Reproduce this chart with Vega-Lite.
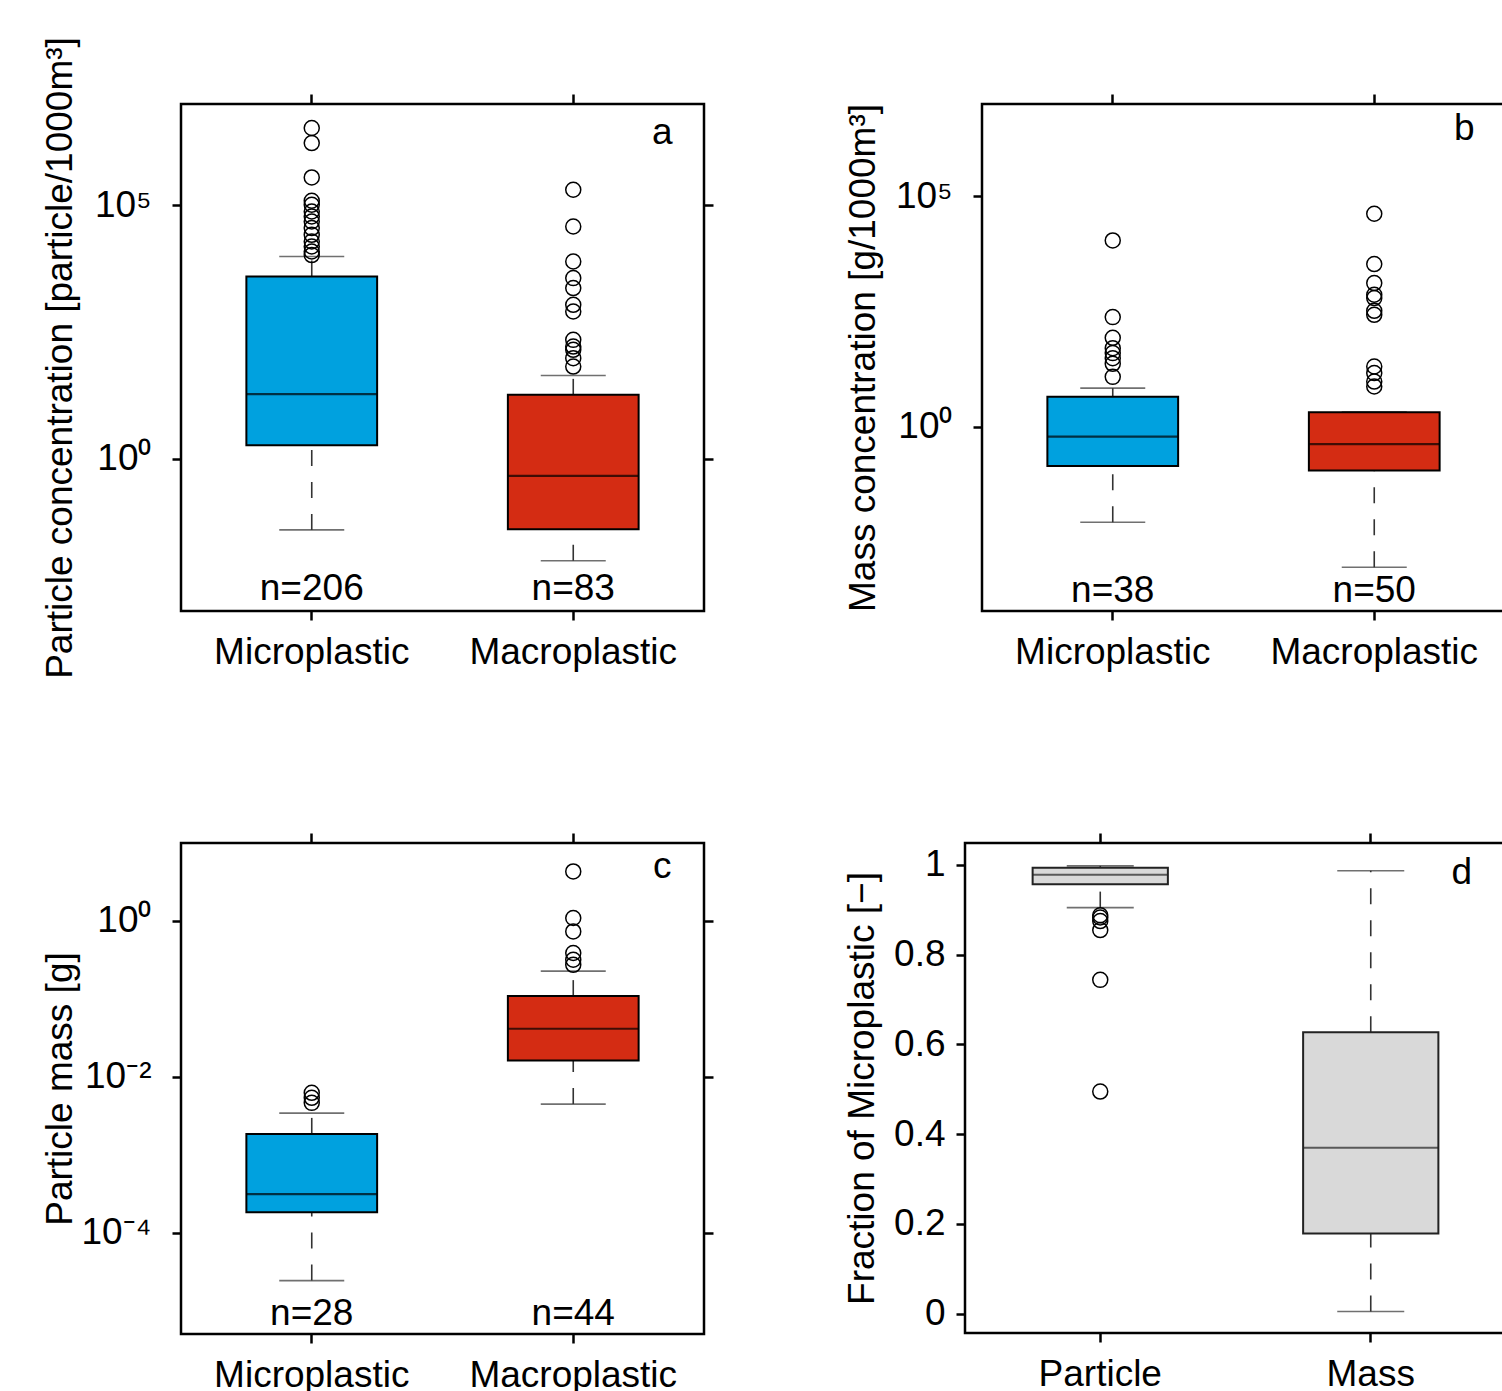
{
  "$schema": "https://vega.github.io/schema/vega-lite/v6.json",
  "padding": {"left": 39, "top": 35, "right": 0, "bottom": 0},
  "background": "white",
  "spacing": 150,
  "datasets": {
    "summary": [
      {"panel": "a", "group": "Microplastic", "lower": 0.0398, "q1": 1.862, "median": 18.92, "q3": 3963, "upper": 9817, "n": "n=206"},
      {"panel": "a", "group": "Macroplastic", "lower": 0.0098, "q1": 0.0409, "median": 0.4613, "q3": 18.32, "upper": 44.06, "n": "n=83"},
      {"panel": "b", "group": "Microplastic", "lower": 0.00843, "q1": 0.1406, "median": 0.6081, "q3": 4.426, "upper": 6.839, "n": "n=38"},
      {"panel": "b", "group": "Macroplastic", "lower": 0.000889, "q1": 0.1112, "median": 0.4159, "q3": 2.061, "upper": 2.061, "n": "n=50"},
      {"panel": "c", "group": "Microplastic", "lower": 0.00002421, "q1": 0.0001828, "median": 0.0003112, "q3": 0.001849, "upper": 0.003412, "n": "n=28"},
      {"panel": "c", "group": "Macroplastic", "lower": 0.004457, "q1": 0.01618, "median": 0.0413, "q3": 0.1084, "upper": 0.227, "n": "n=44"},
      {"panel": "d", "group": "Particle", "lower": 0.905, "q1": 0.957, "median": 0.978, "q3": 0.994, "upper": 0.998, "n": ""},
      {"panel": "d", "group": "Mass", "lower": 0.005, "q1": 0.179, "median": 0.37, "q3": 0.627, "upper": 0.987, "n": ""}
    ],
    "outliers": [
      {"panel": "a", "group": "Microplastic", "value": 3357000},
      {"panel": "a", "group": "Microplastic", "value": 1698000},
      {"panel": "a", "group": "Microplastic", "value": 356500},
      {"panel": "a", "group": "Microplastic", "value": 123600},
      {"panel": "a", "group": "Microplastic", "value": 103000},
      {"panel": "a", "group": "Microplastic", "value": 75860},
      {"panel": "a", "group": "Microplastic", "value": 60530},
      {"panel": "a", "group": "Microplastic", "value": 48190},
      {"panel": "a", "group": "Microplastic", "value": 35730},
      {"panel": "a", "group": "Microplastic", "value": 26300},
      {"panel": "a", "group": "Microplastic", "value": 19410},
      {"panel": "a", "group": "Microplastic", "value": 15490},
      {"panel": "a", "group": "Microplastic", "value": 12330},
      {"panel": "a", "group": "Microplastic", "value": 10470},
      {"panel": "a", "group": "Macroplastic", "value": 203700},
      {"panel": "a", "group": "Macroplastic", "value": 38370},
      {"panel": "a", "group": "Macroplastic", "value": 7834},
      {"panel": "a", "group": "Macroplastic", "value": 3681},
      {"panel": "a", "group": "Macroplastic", "value": 2339},
      {"panel": "a", "group": "Macroplastic", "value": 1094},
      {"panel": "a", "group": "Macroplastic", "value": 807},
      {"panel": "a", "group": "Macroplastic", "value": 222.8},
      {"panel": "a", "group": "Macroplastic", "value": 164.4},
      {"panel": "a", "group": "Macroplastic", "value": 141.6},
      {"panel": "a", "group": "Macroplastic", "value": 97.0},
      {"panel": "a", "group": "Macroplastic", "value": 66.2},
      {"panel": "b", "group": "Microplastic", "value": 10960},
      {"panel": "b", "group": "Microplastic", "value": 237.7},
      {"panel": "b", "group": "Microplastic", "value": 84.53},
      {"panel": "b", "group": "Microplastic", "value": 50.47},
      {"panel": "b", "group": "Microplastic", "value": 39.36},
      {"panel": "b", "group": "Microplastic", "value": 30.62},
      {"panel": "b", "group": "Microplastic", "value": 23.07},
      {"panel": "b", "group": "Microplastic", "value": 12.02},
      {"panel": "b", "group": "Macroplastic", "value": 41590},
      {"panel": "b", "group": "Macroplastic", "value": 3365},
      {"panel": "b", "group": "Macroplastic", "value": 1303},
      {"panel": "b", "group": "Macroplastic", "value": 726.1},
      {"panel": "b", "group": "Macroplastic", "value": 615.2},
      {"panel": "b", "group": "Macroplastic", "value": 325.8},
      {"panel": "b", "group": "Macroplastic", "value": 266.7},
      {"panel": "b", "group": "Macroplastic", "value": 20.14},
      {"panel": "b", "group": "Macroplastic", "value": 14.49},
      {"panel": "b", "group": "Macroplastic", "value": 9.506},
      {"panel": "b", "group": "Macroplastic", "value": 7.413},
      {"panel": "c", "group": "Microplastic", "value": 0.006223},
      {"panel": "c", "group": "Microplastic", "value": 0.00537},
      {"panel": "c", "group": "Microplastic", "value": 0.004624},
      {"panel": "c", "group": "Macroplastic", "value": 4.315},
      {"panel": "c", "group": "Macroplastic", "value": 1.089},
      {"panel": "c", "group": "Macroplastic", "value": 0.7328},
      {"panel": "c", "group": "Macroplastic", "value": 0.3873},
      {"panel": "c", "group": "Macroplastic", "value": 0.3177},
      {"panel": "c", "group": "Macroplastic", "value": 0.2735},
      {"panel": "d", "group": "Particle", "value": 0.888},
      {"panel": "d", "group": "Particle", "value": 0.883},
      {"panel": "d", "group": "Particle", "value": 0.875},
      {"panel": "d", "group": "Particle", "value": 0.855},
      {"panel": "d", "group": "Particle", "value": 0.744},
      {"panel": "d", "group": "Particle", "value": 0.495}
    ]
  },
  "vconcat": [
    {
      "spacing": 126,
      "hconcat": [
        {
          "width": 523, "height": 507,
          "data": {"name": "summary"},
          "resolve": {"axis": {"x": "independent", "y": "independent"}},
          "layer": [
            {"transform": [{"filter": "datum.panel == 'a'"}],
             "mark": {"type": "rule", "strokeDash": [16, 16], "color": "#333", "strokeWidth": 1.6},
             "encoding": {
               "x": {"field": "group", "type": "nominal", "sort": ["Microplastic", "Macroplastic"], "scale": {"paddingInner": 0.5, "paddingOuter": 0.25},
                     "axis": {"orient": "bottom", "title": null, "labelAngle": 0, "labelPadding": 14}},
               "y": {"field": "lower", "type": "quantitative", "scale": {"type": "log", "domain": [0.001, 10000000], "nice": false},
                     "axis": {"orient": "left", "values": [1, 100000], "labelExpr": "datum.value > 10 ? '10⁵' : '10⁰'", "labelPadding": 21,
                              "title": "Particle concentration [particle/1000m³]", "titleX": -121, "titleBaseline": "middle", "titleAngle": -90}},
               "y2": {"field": "q1"}}},
            {"transform": [{"filter": "datum.panel == 'a'"}],
             "mark": {"type": "rule", "strokeDash": [16, 16], "color": "#333", "strokeWidth": 1.6},
             "encoding": {"x": {"field": "group", "type": "nominal", "sort": ["Microplastic", "Macroplastic"], "axis": null},
                          "y": {"field": "q3", "type": "quantitative", "axis": null}, "y2": {"field": "upper"}}},
            {"transform": [{"filter": "datum.panel == 'a'"}],
             "mark": {"type": "tick", "size": 65, "thickness": 1.6, "color": "#333"},
             "encoding": {"x": {"field": "group", "type": "nominal", "sort": ["Microplastic", "Macroplastic"], "axis": null},
                          "y": {"field": "lower", "type": "quantitative", "axis": null}}},
            {"transform": [{"filter": "datum.panel == 'a'"}],
             "mark": {"type": "tick", "size": 65, "thickness": 1.6, "color": "#333"},
             "encoding": {"x": {"field": "group", "type": "nominal", "sort": ["Microplastic", "Macroplastic"], "axis": null},
                          "y": {"field": "upper", "type": "quantitative", "axis": null}}},
            {"transform": [{"filter": "datum.panel == 'a'"}],
             "mark": {"type": "bar", "stroke": "black", "strokeWidth": 2},
             "encoding": {"x": {"field": "group", "type": "nominal", "sort": ["Microplastic", "Macroplastic"], "axis": null},
                          "y": {"field": "q1", "type": "quantitative", "axis": null}, "y2": {"field": "q3"},
                          "color": {"field": "group", "type": "nominal", "scale": {"domain": ["Microplastic", "Macroplastic"], "range": ["#00A1DF", "#D42C13"]}, "legend": null}}},
            {"transform": [{"filter": "datum.panel == 'a'"}],
             "mark": {"type": "tick", "size": 131, "thickness": 2.2, "color": "black"},
             "encoding": {"x": {"field": "group", "type": "nominal", "sort": ["Microplastic", "Macroplastic"], "axis": {"orient": "top", "labels": false, "title": null, "tickSize": 10}},
                          "y": {"field": "median", "type": "quantitative", "axis": {"orient": "right", "labels": false, "title": null, "values": [1, 100000]}}}},
            {"data": {"name": "outliers"}, "transform": [{"filter": "datum.panel == 'a'"}],
             "mark": {"type": "point", "shape": "circle", "filled": false, "size": 225, "stroke": "black", "strokeWidth": 1.5, "opacity": 1},
             "encoding": {"x": {"field": "group", "type": "nominal", "sort": ["Microplastic", "Macroplastic"], "axis": null},
                          "y": {"field": "value", "type": "quantitative", "axis": null}}},
            {"transform": [{"filter": "datum.panel == 'a'"}],
             "mark": {"type": "text", "fontSize": 37, "font": "Liberation Sans", "baseline": "alphabetic", "color": "black"},
             "encoding": {"x": {"field": "group", "type": "nominal", "sort": ["Microplastic", "Macroplastic"], "axis": null},
                          "y": {"datum": 0.001648, "axis": null}, "text": {"field": "n"}}},
            {"transform": [{"filter": "datum.panel == 'a' && datum.group == 'Macroplastic'"}],
             "mark": {"type": "text", "fontSize": 37, "font": "Liberation Sans", "baseline": "alphabetic", "color": "black", "dx": 89},
             "encoding": {"x": {"datum": "Macroplastic", "axis": null}, "y": {"datum": 1624000, "axis": null}, "text": {"value": "a"}}}
          ]
        },
        {
          "width": 523, "height": 507,
          "data": {"name": "summary"},
          "resolve": {"axis": {"x": "independent", "y": "independent"}},
          "layer": [
            {"transform": [{"filter": "datum.panel == 'b'"}],
             "mark": {"type": "rule", "strokeDash": [16, 16], "color": "#333", "strokeWidth": 1.6},
             "encoding": {
               "x": {"field": "group", "type": "nominal", "sort": ["Microplastic", "Macroplastic"], "scale": {"paddingInner": 0.5, "paddingOuter": 0.25},
                     "axis": {"orient": "bottom", "title": null, "labelAngle": 0, "labelPadding": 14}},
               "y": {"field": "lower", "type": "quantitative", "scale": {"type": "log", "domain": [0.0001, 10000000], "nice": false},
                     "axis": {"orient": "left", "values": [1, 100000], "labelExpr": "datum.value > 10 ? '10⁵' : '10⁰'", "labelPadding": 21,
                              "title": "Mass concentration [g/1000m³]", "titleX": -119, "titleBaseline": "middle", "titleAngle": -90}},
               "y2": {"field": "q1"}}},
            {"transform": [{"filter": "datum.panel == 'b'"}],
             "mark": {"type": "rule", "strokeDash": [16, 16], "color": "#333", "strokeWidth": 1.6},
             "encoding": {"x": {"field": "group", "type": "nominal", "sort": ["Microplastic", "Macroplastic"], "axis": null},
                          "y": {"field": "q3", "type": "quantitative", "axis": null}, "y2": {"field": "upper"}}},
            {"transform": [{"filter": "datum.panel == 'b'"}],
             "mark": {"type": "tick", "size": 65, "thickness": 1.6, "color": "#333"},
             "encoding": {"x": {"field": "group", "type": "nominal", "sort": ["Microplastic", "Macroplastic"], "axis": null},
                          "y": {"field": "lower", "type": "quantitative", "axis": null}}},
            {"transform": [{"filter": "datum.panel == 'b'"}],
             "mark": {"type": "tick", "size": 65, "thickness": 1.6, "color": "#333"},
             "encoding": {"x": {"field": "group", "type": "nominal", "sort": ["Microplastic", "Macroplastic"], "axis": null},
                          "y": {"field": "upper", "type": "quantitative", "axis": null}}},
            {"transform": [{"filter": "datum.panel == 'b'"}],
             "mark": {"type": "bar", "stroke": "black", "strokeWidth": 2},
             "encoding": {"x": {"field": "group", "type": "nominal", "sort": ["Microplastic", "Macroplastic"], "axis": null},
                          "y": {"field": "q1", "type": "quantitative", "axis": null}, "y2": {"field": "q3"},
                          "color": {"field": "group", "type": "nominal", "scale": {"domain": ["Microplastic", "Macroplastic"], "range": ["#00A1DF", "#D42C13"]}, "legend": null}}},
            {"transform": [{"filter": "datum.panel == 'b'"}],
             "mark": {"type": "tick", "size": 131, "thickness": 2.2, "color": "black"},
             "encoding": {"x": {"field": "group", "type": "nominal", "sort": ["Microplastic", "Macroplastic"], "axis": {"orient": "top", "labels": false, "title": null, "tickSize": 10}},
                          "y": {"field": "median", "type": "quantitative", "axis": null}}},
            {"data": {"name": "outliers"}, "transform": [{"filter": "datum.panel == 'b'"}],
             "mark": {"type": "point", "shape": "circle", "filled": false, "size": 225, "stroke": "black", "strokeWidth": 1.5, "opacity": 1},
             "encoding": {"x": {"field": "group", "type": "nominal", "sort": ["Microplastic", "Macroplastic"], "axis": null},
                          "y": {"field": "value", "type": "quantitative", "axis": null}}},
            {"transform": [{"filter": "datum.panel == 'b'"}],
             "mark": {"type": "text", "fontSize": 37, "font": "Liberation Sans", "baseline": "alphabetic", "color": "black"},
             "encoding": {"x": {"field": "group", "type": "nominal", "sort": ["Microplastic", "Macroplastic"], "axis": null},
                          "y": {"datum": 0.0001567, "axis": null}, "text": {"field": "n"}}},
            {"transform": [{"filter": "datum.panel == 'b' && datum.group == 'Macroplastic'"}],
             "mark": {"type": "text", "fontSize": 37, "font": "Liberation Sans", "baseline": "alphabetic", "color": "black", "dx": 90},
             "encoding": {"x": {"datum": "Macroplastic", "axis": null}, "y": {"datum": 1625000, "axis": null}, "text": {"value": "b"}}}
          ]
        }
      ]
    },
    {
      "spacing": 125,
      "hconcat": [
        {
          "width": 523, "height": 491,
          "data": {"name": "summary"},
          "resolve": {"axis": {"x": "independent", "y": "independent"}},
          "layer": [
            {"transform": [{"filter": "datum.panel == 'c'"}],
             "mark": {"type": "rule", "strokeDash": [16, 16], "color": "#333", "strokeWidth": 1.6},
             "encoding": {
               "x": {"field": "group", "type": "nominal", "sort": ["Microplastic", "Macroplastic"], "scale": {"paddingInner": 0.5, "paddingOuter": 0.25},
                     "axis": {"orient": "bottom", "title": null, "labelAngle": 0, "labelPadding": 14}},
               "y": {"field": "lower", "type": "quantitative", "scale": {"type": "log", "domain": [0.000005, 10], "nice": false},
                     "axis": {"orient": "left", "values": [0.0001, 0.01, 1], "labelExpr": "datum.value < 0.001 ? '10⁻⁴' : datum.value < 0.1 ? '10⁻²' : '10⁰'", "labelPadding": 21,
                              "title": "Particle mass [g]", "titleX": -121, "titleBaseline": "middle", "titleAngle": -90}},
               "y2": {"field": "q1"}}},
            {"transform": [{"filter": "datum.panel == 'c'"}],
             "mark": {"type": "rule", "strokeDash": [16, 16], "color": "#333", "strokeWidth": 1.6},
             "encoding": {"x": {"field": "group", "type": "nominal", "sort": ["Microplastic", "Macroplastic"], "axis": null},
                          "y": {"field": "q3", "type": "quantitative", "axis": null}, "y2": {"field": "upper"}}},
            {"transform": [{"filter": "datum.panel == 'c'"}],
             "mark": {"type": "tick", "size": 65, "thickness": 1.6, "color": "#333"},
             "encoding": {"x": {"field": "group", "type": "nominal", "sort": ["Microplastic", "Macroplastic"], "axis": null},
                          "y": {"field": "lower", "type": "quantitative", "axis": null}}},
            {"transform": [{"filter": "datum.panel == 'c'"}],
             "mark": {"type": "tick", "size": 65, "thickness": 1.6, "color": "#333"},
             "encoding": {"x": {"field": "group", "type": "nominal", "sort": ["Microplastic", "Macroplastic"], "axis": null},
                          "y": {"field": "upper", "type": "quantitative", "axis": null}}},
            {"transform": [{"filter": "datum.panel == 'c'"}],
             "mark": {"type": "bar", "stroke": "black", "strokeWidth": 2},
             "encoding": {"x": {"field": "group", "type": "nominal", "sort": ["Microplastic", "Macroplastic"], "axis": null},
                          "y": {"field": "q1", "type": "quantitative", "axis": null}, "y2": {"field": "q3"},
                          "color": {"field": "group", "type": "nominal", "scale": {"domain": ["Microplastic", "Macroplastic"], "range": ["#00A1DF", "#D42C13"]}, "legend": null}}},
            {"transform": [{"filter": "datum.panel == 'c'"}],
             "mark": {"type": "tick", "size": 131, "thickness": 2.2, "color": "black"},
             "encoding": {"x": {"field": "group", "type": "nominal", "sort": ["Microplastic", "Macroplastic"], "axis": {"orient": "top", "labels": false, "title": null, "tickSize": 10}},
                          "y": {"field": "median", "type": "quantitative", "axis": {"orient": "right", "labels": false, "title": null, "values": [0.0001, 0.01, 1]}}}},
            {"data": {"name": "outliers"}, "transform": [{"filter": "datum.panel == 'c'"}],
             "mark": {"type": "point", "shape": "circle", "filled": false, "size": 225, "stroke": "black", "strokeWidth": 1.5, "opacity": 1},
             "encoding": {"x": {"field": "group", "type": "nominal", "sort": ["Microplastic", "Macroplastic"], "axis": null},
                          "y": {"field": "value", "type": "quantitative", "axis": null}}},
            {"transform": [{"filter": "datum.panel == 'c'"}],
             "mark": {"type": "text", "fontSize": 37, "font": "Liberation Sans", "baseline": "alphabetic", "color": "black"},
             "encoding": {"x": {"field": "group", "type": "nominal", "sort": ["Microplastic", "Macroplastic"], "axis": null},
                          "y": {"datum": 0.00000653, "axis": null}, "text": {"field": "n"}}},
            {"transform": [{"filter": "datum.panel == 'c' && datum.group == 'Macroplastic'"}],
             "mark": {"type": "text", "fontSize": 37, "font": "Liberation Sans", "baseline": "alphabetic", "color": "black", "dx": 89},
             "encoding": {"x": {"datum": "Macroplastic", "axis": null}, "y": {"datum": 3.553, "axis": null}, "text": {"value": "c"}}}
          ]
        },
        {
          "width": 541, "height": 490,
          "data": {"name": "summary"},
          "resolve": {"axis": {"x": "independent", "y": "independent"}},
          "layer": [
            {"transform": [{"filter": "datum.panel == 'd'"}],
             "mark": {"type": "rule", "strokeDash": [16, 16], "color": "#333", "strokeWidth": 1.6},
             "encoding": {
               "x": {"field": "group", "type": "nominal", "sort": ["Particle", "Mass"], "scale": {"paddingInner": 0.5, "paddingOuter": 0.25},
                     "axis": {"orient": "bottom", "title": null, "labelAngle": 0, "labelPadding": 14}},
               "y": {"field": "lower", "type": "quantitative", "scale": {"domain": [-0.043, 1.049], "nice": false, "zero": false},
                     "axis": {"orient": "left", "values": [0, 0.2, 0.4, 0.6, 0.8, 1], "format": "~g", "labelPadding": 11,
                              "title": "Fraction of Microplastic [−]", "titleX": -103, "titleBaseline": "middle", "titleAngle": -90}},
               "y2": {"field": "q1"}}},
            {"transform": [{"filter": "datum.panel == 'd'"}],
             "mark": {"type": "rule", "strokeDash": [16, 16], "color": "#333", "strokeWidth": 1.6},
             "encoding": {"x": {"field": "group", "type": "nominal", "sort": ["Particle", "Mass"], "axis": null},
                          "y": {"field": "q3", "type": "quantitative", "axis": null}, "y2": {"field": "upper"}}},
            {"transform": [{"filter": "datum.panel == 'd'"}],
             "mark": {"type": "tick", "size": 67, "thickness": 1.6, "color": "#333"},
             "encoding": {"x": {"field": "group", "type": "nominal", "sort": ["Particle", "Mass"], "axis": null},
                          "y": {"field": "lower", "type": "quantitative", "axis": null}}},
            {"transform": [{"filter": "datum.panel == 'd'"}],
             "mark": {"type": "tick", "size": 67, "thickness": 1.6, "color": "#333"},
             "encoding": {"x": {"field": "group", "type": "nominal", "sort": ["Particle", "Mass"], "axis": null},
                          "y": {"field": "upper", "type": "quantitative", "axis": null}}},
            {"transform": [{"filter": "datum.panel == 'd'"}],
             "mark": {"type": "bar", "stroke": "#222", "strokeWidth": 2, "color": "#D9D9D9"},
             "encoding": {"x": {"field": "group", "type": "nominal", "sort": ["Particle", "Mass"], "axis": null},
                          "y": {"field": "q1", "type": "quantitative", "axis": null}, "y2": {"field": "q3"}}},
            {"transform": [{"filter": "datum.panel == 'd'"}],
             "mark": {"type": "tick", "size": 135, "thickness": 2, "color": "#222"},
             "encoding": {"x": {"field": "group", "type": "nominal", "sort": ["Particle", "Mass"], "axis": {"orient": "top", "labels": false, "title": null, "tickSize": 10}},
                          "y": {"field": "median", "type": "quantitative", "axis": null}}},
            {"data": {"name": "outliers"}, "transform": [{"filter": "datum.panel == 'd'"}],
             "mark": {"type": "point", "shape": "circle", "filled": false, "size": 225, "stroke": "black", "strokeWidth": 1.5, "opacity": 1},
             "encoding": {"x": {"field": "group", "type": "nominal", "sort": ["Particle", "Mass"], "axis": null},
                          "y": {"field": "value", "type": "quantitative", "axis": null}}},
            {"transform": [{"filter": "datum.panel == 'd' && datum.group == 'Mass'"}],
             "mark": {"type": "text", "fontSize": 37, "font": "Liberation Sans", "baseline": "alphabetic", "color": "black", "dx": 91},
             "encoding": {"x": {"datum": "Mass", "axis": null}, "y": {"datum": 0.957, "axis": null}, "text": {"value": "d"}}}
          ]
        }
      ]
    }
  ],
  "config": {
    "view": {"stroke": "black", "strokeWidth": 2.5},
    "axis": {"tickColor": "black", "tickWidth": 2.5, "tickSize": 9, "domain": false, "grid": false, "labelLimit": 0,
             "labelFont": "Liberation Sans", "labelFontSize": 37, "labelColor": "black", "labelOverlap": false, "labelFlush": false,
             "titleFont": "Liberation Sans", "titleFontSize": 37, "titleFontWeight": "normal", "titleColor": "black"},
    "text": {"font": "Liberation Sans"}
  }
}
